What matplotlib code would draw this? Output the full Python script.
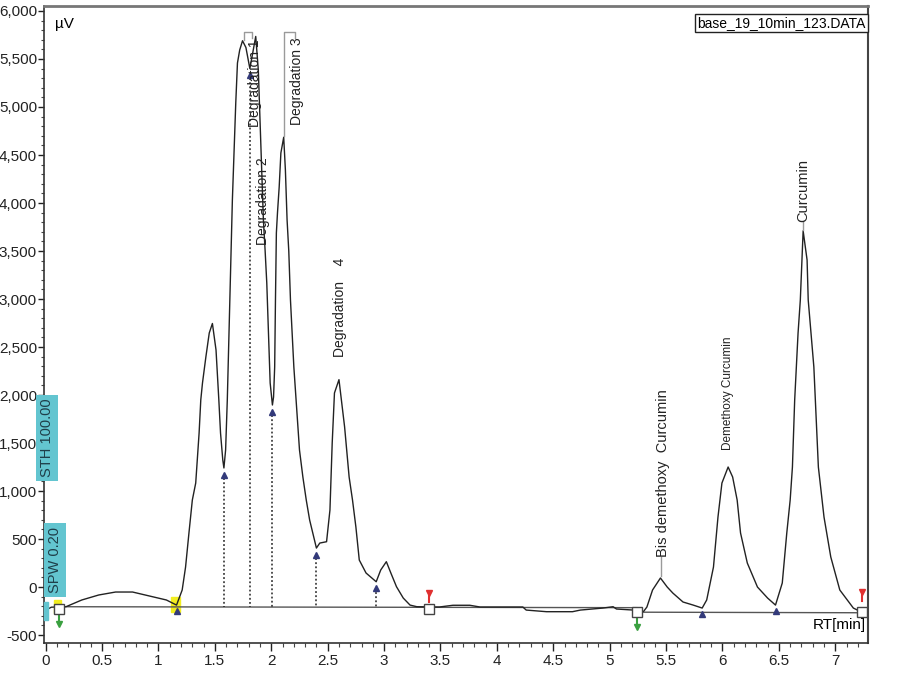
import matplotlib
matplotlib.use("Agg")
import matplotlib.pyplot as plt
from matplotlib.ticker import MultipleLocator, FixedLocator, FixedFormatter
from matplotlib.patches import Rectangle

plt.rcParams['font.family'] = ['Liberation Sans', 'DejaVu Sans']

# chromatogram trace (RT in min, signal in uV)
rt = [0.00, 0.05, 0.10, 0.18, 0.32, 0.47, 0.62, 0.77, 0.92, 1.07, 1.16,
      1.21, 1.24, 1.27, 1.30, 1.33, 1.36, 1.375, 1.39, 1.42, 1.45, 1.478,
      1.51, 1.535, 1.55, 1.57, 1.58,
      1.595, 1.61, 1.625, 1.64, 1.655, 1.67, 1.685, 1.70, 1.72, 1.745,
      1.775, 1.81, 1.835, 1.862,
      1.885, 1.90, 1.915, 1.93, 1.945, 1.96, 1.975, 1.99, 2.01,
      2.02, 2.03, 2.037, 2.045, 2.055, 2.07, 2.085, 2.11,
      2.125, 2.14, 2.155, 2.17, 2.20, 2.23, 2.25, 2.28, 2.31, 2.34, 2.40,
      2.43, 2.49, 2.52, 2.54, 2.56, 2.60,
      2.65, 2.69, 2.72, 2.75, 2.78, 2.84, 2.93,
      2.97, 3.02, 3.06, 3.11, 3.17, 3.23, 3.29,
      3.49, 3.61, 3.76, 3.85, 4.23, 4.26, 4.44, 4.67, 4.74, 4.94, 5.03,
      5.06, 5.21, 5.30, 5.33,
      5.38, 5.45, 5.51, 5.56, 5.65, 5.74, 5.82,
      5.86, 5.92, 5.96, 5.995, 6.05, 6.09, 6.13, 6.16, 6.22, 6.31, 6.40, 6.47,
      6.53, 6.57, 6.60, 6.62, 6.64, 6.67, 6.69, 6.715,
      6.75, 6.76, 6.81, 6.85, 6.90, 6.96, 7.04, 7.16, 7.25]
signal = [-240, -210, -208, -205, -135, -83, -52, -52, -94, -135, -188,
          -31, 208, 563, 906, 1083, 1604, 1950, 2125, 2396, 2646, 2745,
          2469, 1948, 1604, 1323, 1240,
          1427, 1948, 2646, 3333, 4031, 4521, 5042, 5458, 5594, 5690,
          5620, 5400, 5560, 5735,
          5385, 4865, 4344, 3823, 3510, 3167, 2646, 2125, 1896,
          1979, 2292, 2990, 3688, 3900, 4167, 4521, 4685,
          4344, 3823, 3500, 2990, 2292, 1771, 1427, 1146, 906, 698, 406,
          458, 472, 802, 1500, 2021, 2160,
          1667, 1146, 906, 625, 281, 146, 55,
          177, 264, 146, 3, -115, -188, -205,
          -208, -190, -190, -208, -208, -240, -257, -257, -240, -219, -205,
          -229, -240, -255, -208,
          -31, 94, 0, -63, -156, -188, -219,
          -135, 208, 729, 1083, 1250, 1146, 906, 563, 250, 0, -115, -188,
          42, 563, 906, 1250, 1948, 2646, 2990, 3710,
          3406, 2990, 2292, 1250, 729, 313, -31, -219, -271]

# integration baselines
base_rt = [0.10, 5.24]
base_val = [-205, -215]
base2_rt = [5.24, 7.25]
base2_val = [-262, -268]

# valleys (drop lines) and peak labels
valley_rt = [1.58, 1.81, 2.01, 2.40, 2.93]
valley_val = [1240, 5400, 1896, 406, 55]
extra_valley_rt = [1.16, 5.82, 6.47]
extra_valley_val = [-188, -219, -188]

y_ticks = [-500, 0, 500, 1000, 1500, 2000, 2500, 3000, 3500, 4000, 4500, 5000, 5500, 6000]
y_tick_labels = ['-500', '0', '500', '1,000', '1,500', '2,000', '2,500', '3,000',
                 '3,500', '4,000', '4,500', '5,000', '5,500', '6,000']
x_ticks = [0, 0.5, 1, 1.5, 2, 2.5, 3, 3.5, 4, 4.5, 5, 5.5, 6, 6.5, 7]
x_tick_labels = ['0', '0.5', '1', '1.5', '2', '2.5', '3', '3.5', '4', '4.5',
                 '5', '5.5', '6', '6.5', '7']

fig = plt.figure(figsize=(8.99, 6.75), dpi=100)
ax = fig.add_axes([44 / 899, 1 - 643 / 675, 824 / 899, 637 / 675])
ax.set_xlim(-0.015, 7.29)
ax.set_ylim(-583, 6052)

# baselines
ax.plot(base_rt, base_val, color='#555555', lw=1.0)
ax.plot(base2_rt, base2_val, color='#555555', lw=1.0)

# trace
ax.plot(rt, signal, color='#222222', lw=1.0)

# drop lines
for x, y in zip(valley_rt, valley_val):
    ax.plot([x, x], [y - 60, -205], color='#222222', lw=1.1, ls=(0, (1.2, 1.5)))
    ax.plot(x, y - 70, marker='^', ms=4.5, color='#333a7a', ls='none')
for x, y in zip(extra_valley_rt, extra_valley_val):
    ax.plot(x, y - 60, marker='^', ms=4.5, color='#333a7a', ls='none')

# yellow highlights
ax.add_patch(Rectangle((0.07, -270), 0.065, 135, color='#f2ee20', zorder=1))
ax.add_patch(Rectangle((1.11, -260), 0.08, 160, color='#f2ee20', zorder=1))

# start / end markers
for x, y in [(0.12, -232), (3.40, -234), (5.24, -262), (7.24, -262)]:
    ax.plot(x, y, marker='s', ms=7, mfc='white', mec='#444444', mew=1.0, ls='none', zorder=4)
for x, y in [(0.12, -300), (5.24, -330)]:
    ax.plot([x, x], [y, y - 80], color='#3aa040', lw=1.5, zorder=3)
    ax.plot(x, y - 90, marker='v', ms=4, color='#3aa040', ls='none')
for x, y in [(3.40, -160), (7.24, -150)]:
    ax.plot([x, x], [y, y + 90], color='#e03030', lw=1.5, zorder=3)
    ax.plot(x, y + 100, marker='v', ms=4.5, color='#e03030', ls='none')

# label leaders
lead = '#9a9a9a'
ax.plot([1.762, 1.762, 1.832, 1.832], [5700, 5785, 5785, 5720], color=lead, lw=1)
ax.plot([2.11, 2.11, 2.21, 2.21], [4700, 5785, 5785, 5720], color=lead, lw=1)
ax.plot([5.455, 5.455], [110, 310], color=lead, lw=1)
ax.plot([6.715, 6.715], [3720, 3800], color=lead, lw=1)

tkw = dict(rotation=90, ha='center', color='#222222')
ax.text(1.858, 5700, 'Degradation 1', va='top', fontsize=10, **tkw)
ax.text(1.925, 4480, 'Degradation 2', va='top', fontsize=10, **tkw)
ax.text(2.225, 5720, 'Degradation 3', va='top', fontsize=10, **tkw)
ax.text(2.605, 3430, 'Degradation    4', va='top', fontsize=10, **tkw)
ax.text(5.47, 312, 'Bis demethoxy  Curcumin', va='bottom', fontsize=10.5, **tkw)
ax.text(6.053, 1427, 'Demethoxy Curcumin', va='bottom', fontsize=8.5, **tkw)
ax.text(6.715, 3802, 'Curcumin', va='bottom', fontsize=10.5, **tkw)

ax.text(0.013, 0.972, 'µV', transform=ax.transAxes, fontsize=11, va='center', ha='left')
ax.text(0.998, 0.028, 'RT[min]', transform=ax.transAxes, fontsize=11, va='center', ha='right')
ax.text(0.997, 0.984, 'base_19_10min_123.DATA', transform=ax.transAxes, fontsize=10,
        va='top', ha='right',
        bbox=dict(boxstyle='square,pad=0.15', fc='white', ec='#222222', lw=1))

# cyan parameter boxes at the left edge
cyan = '#63c5d0'
fig.text(47 / 899, 1 - 438 / 675, 'STH 100.00', rotation=90, ha='center', va='center',
         fontsize=10.5, color='#1f3f4a',
         bbox=dict(boxstyle='square,pad=0.25', fc=cyan, ec='none'))
fig.text(55 / 899, 1 - 560 / 675, 'SPW 0.20', rotation=90, ha='center', va='center',
         fontsize=10.5, color='#1f3f4a',
         bbox=dict(boxstyle='square,pad=0.25', fc=cyan, ec='none'))
fig.add_artist(Rectangle((44 / 899, 1 - 620 / 675), 4 / 899, 18 / 675,
                         transform=fig.transFigure, color=cyan))

# axes styling
ax.yaxis.set_major_locator(FixedLocator(y_ticks))
ax.yaxis.set_major_formatter(FixedFormatter(y_tick_labels))
ax.yaxis.set_minor_locator(MultipleLocator(100))
ax.xaxis.set_major_locator(FixedLocator(x_ticks))
ax.xaxis.set_major_formatter(FixedFormatter(x_tick_labels))
ax.xaxis.set_minor_locator(MultipleLocator(0.1))
ax.tick_params(axis='y', which='major', length=4, width=1, pad=1, labelsize=11, colors='#222222')
ax.tick_params(axis='y', which='minor', length=2.5, width=0.8, colors='#444444')
ax.tick_params(axis='x', which='major', length=6, width=1, pad=2, labelsize=11, colors='#222222')
ax.tick_params(axis='x', which='minor', length=3, width=0.8, colors='#444444')
for s in ['left', 'bottom']:
    ax.spines[s].set_color('#333333')
    ax.spines[s].set_linewidth(1.2)
ax.spines['top'].set_color('#777777')
ax.spines['top'].set_linewidth(2)
ax.spines['right'].set_color('#444444')
ax.spines['right'].set_linewidth(1.5)

fig.savefig('out.png', dpi=100)
